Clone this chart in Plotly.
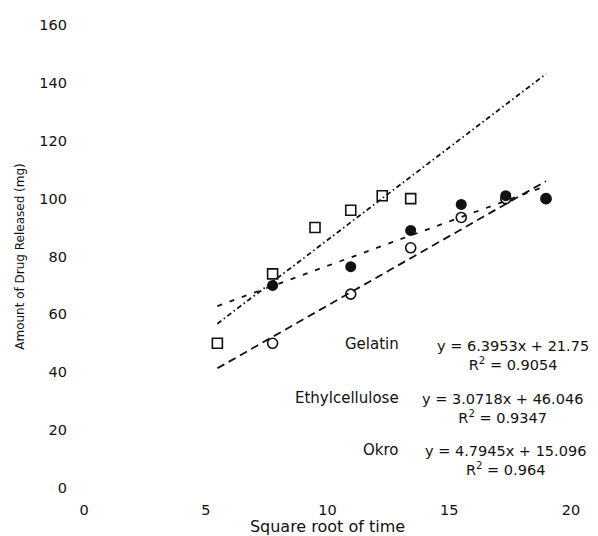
import numpy as np
import plotly.graph_objects as go

# ---- data (x = square root of time, time in minutes) ----
time_min = [30, 60, 90, 120, 150, 180, 240, 300, 360]

gelatin_time = [30, 60, 90, 120, 150, 180]
gelatin_release = [50, 74, 90, 96, 101, 100]

ethyl_time = [60, 120, 180, 240, 300, 360]
ethyl_release = [70, 76.5, 89, 98, 101, 100]

okro_time = [60, 120, 180, 240, 300, 360]
okro_release = [50, 67, 83, 93.5, 100, 100]

# trendline coefficients (slope, intercept, R^2) as printed on the chart
series_names = ["Gelatin", "Ethylcellulose", "Okro"]
slopes = [6.3953, 3.0718, 4.7945]
intercepts = [21.75, 46.046, 15.096]
r_squared = ["0.9054", "0.9347", "0.964"]
slope_txt = ["6.3953", "3.0718", "4.7945"]
intercept_txt = ["21.75", "46.046", "15.096"]

x_ticks = [0, 5, 10, 15, 20]
y_ticks = [0, 20, 40, 60, 80, 100, 120, 140, 160]

trend_x = np.sqrt([min(time_min), max(time_min)])

FONT = "DejaVu Sans"
BLACK = "#111111"

fig = go.Figure()

line_dash = ["5px,3px,1.5px,3px", "5px,8px", "8px,5px"]
for i, name in enumerate(series_names):
    fig.add_trace(go.Scatter(
        x=trend_x, y=slopes[i] * trend_x + intercepts[i], mode="lines",
        line=dict(color=BLACK, width=1.8, dash=line_dash[i]),
        showlegend=False, hoverinfo="skip"))

fig.add_trace(go.Scatter(
    x=np.sqrt(okro_time), y=okro_release, mode="markers", name="Okro",
    marker=dict(symbol="circle-open", size=10, color=BLACK, line=dict(width=1.6, color=BLACK)),
    showlegend=False))
fig.add_trace(go.Scatter(
    x=np.sqrt(gelatin_time), y=gelatin_release, mode="markers", name="Gelatin",
    marker=dict(symbol="square-open", size=10, color=BLACK, line=dict(width=1.6, color=BLACK)),
    showlegend=False))
fig.add_trace(go.Scatter(
    x=np.sqrt(ethyl_time), y=ethyl_release, mode="markers", name="Ethylcellulose",
    marker=dict(symbol="circle", size=11, color=BLACK, line=dict(width=0)),
    showlegend=False))

# equation labels
label_y = [49.6, 31.1, 13.2]
eq_x = [17.6, 17.2, 17.3]
for i, name in enumerate(series_names):
    fig.add_annotation(x=13.02, y=label_y[i], text=name, showarrow=False,
                       xanchor="right", yanchor="middle",
                       font=dict(family=FONT, size=15, color=BLACK))
    fig.add_annotation(x=eq_x[i], y=label_y[i] + 3.1,
                       text=f"y = {slope_txt[i]}x + {intercept_txt[i]}<br>R<sup>2</sup> = {r_squared[i]}",
                       showarrow=False, xanchor="center", yanchor="top", align="center",
                       font=dict(family=FONT, size=14.5, color=BLACK))

fig.update_layout(
    width=598, height=536,
    margin=dict(l=84, r=27, t=25, b=48),
    paper_bgcolor="white", plot_bgcolor="white",
    font=dict(family=FONT, color=BLACK),
    xaxis=dict(range=[0, 20], tickvals=x_ticks, showgrid=False, zeroline=False,
               showline=False, ticks="", ticklabelstandoff=11, automargin=False,
               tickfont=dict(family=FONT, size=14.5, color=BLACK),
               title=dict(text="Square root of time", standoff=4,
                          font=dict(family=FONT, size=16, color=BLACK))),
    yaxis=dict(range=[0, 160], tickvals=y_ticks, showgrid=False, zeroline=False,
               showline=False, ticks="", ticklabelstandoff=16, automargin=False,
               tickfont=dict(family=FONT, size=14.5, color=BLACK),
               title=dict(text="Amount of Drug Released (mg)", standoff=12,
                          font=dict(family=FONT, size=12, color=BLACK))),
)

fig.write_html("out.html")
